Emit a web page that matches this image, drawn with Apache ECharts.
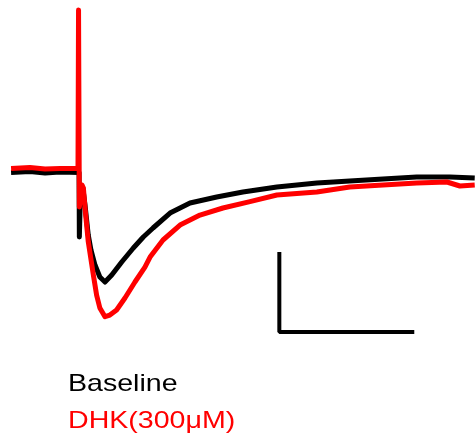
<!DOCTYPE html>
<html>
<head>
<meta charset="utf-8">
<script src="https://cdn.jsdelivr.net/npm/echarts@6/dist/echarts.min.js"></script>
<style>
  html, body { margin: 0; padding: 0; background: #fff; }
  #chart { width: 475px; height: 443px; }
</style>
</head>
<body>
<div id="chart"></div>
<script>
// time (ms), current (pA)
let baselineTrace = [
    [4.1, -3.1], [11.1, -1.9], [16.7, -3.8], [22.2, -2.5], [29.3, -3.1],
    [29.4, -83.8], [29.8, -30], [30.7, -22.5], [31.5, -43.8], [32.7, -81.3],
    [33.7, -100], [35.2, -118.8], [37, -133.8], [38.9, -140], [41.4, -131.3],
    [45.1, -115], [49.4, -97.5], [53.1, -83.8], [56.7, -72.5], [63, -53.8],
    [70.4, -41.3], [80.3, -33.8], [90, -27.5], [102.6, -21.3], [117.4, -16.3],
    [129.6, -13.8], [141.9, -11.3], [154.4, -8.8], [166.7, -8.8], [175.9, -10]
];
let dhkTrace = [
    [4.1, 1.9], [11.1, 3.1], [16.7, 1.3], [22.2, 1.9], [28.9, 1.9],
    [29.1, 200], [29.4, -46.3], [30.4, -18.8], [30.9, -22.5], [31.5, -47.5],
    [32.7, -89.6], [34.6, -131.3], [35.8, -156.3], [37, -172.5], [38.9, -183.4],
    [40.7, -181.3], [43.2, -175], [46.3, -160], [50, -140], [53.7, -121.3],
    [55.6, -108.8], [60.4, -87.5], [66.7, -68.8], [74.1, -56.3], [82.6, -47.5],
    [92.6, -39.6], [102.6, -31.3], [117.4, -27.5], [129.6, -21.3], [141.9, -18.8],
    [154.4, -16.3], [165.6, -15], [170.4, -20], [175.9, -18.8]
];
let seriesNames = ['Baseline', 'DHK(300\u03bcM)'];
let seriesColors = ['#000000', '#ff0000'];
// scale bar: 50 ms x 100 pA
let scaleBarOrigin = [103.5, -202.5];
let scaleBarMs = 50;
let scaleBarPa = 100;

let scaleBar = [
    [scaleBarOrigin[0], scaleBarOrigin[1] + scaleBarPa],
    scaleBarOrigin,
    [scaleBarOrigin[0] + scaleBarMs, scaleBarOrigin[1]]
];

let traceSeries = [baselineTrace, dhkTrace].map(function (trace, i) {
    return {
        name: seriesNames[i],
        type: 'line',
        data: trace,
        symbol: 'none',
        lineStyle: { color: seriesColors[i], width: 5, join: 'round' },
        itemStyle: { color: seriesColors[i] }
    };
});

// key text, slightly stretched like the original figure
let keyTexts = seriesNames.map(function (name, i) {
    return {
        type: 'text',
        x: 68,
        y: 384 + i * 37,
        scaleX: 1.19,
        style: {
            text: name,
            fill: seriesColors[i],
            font: '24px "Liberation Sans", Arial, sans-serif',
            align: 'left',
            verticalAlign: 'middle'
        }
    };
});

let option = {
    animation: false,
    backgroundColor: '#fff',
    grid: { left: 0, right: 0, top: 0, bottom: 0 },
    xAxis: { type: 'value', min: 0, max: 176, show: false },
    yAxis: { type: 'value', min: -341.25, max: 212.5, show: false },
    graphic: keyTexts,
    series: traceSeries.concat([{
        name: 'scale',
        type: 'line',
        data: scaleBar,
        symbol: 'none',
        lineStyle: { color: '#000', width: 4 }
    }])
};

let chart = echarts.init(document.getElementById('chart'));
chart.setOption(option);
</script>
</body>
</html>
